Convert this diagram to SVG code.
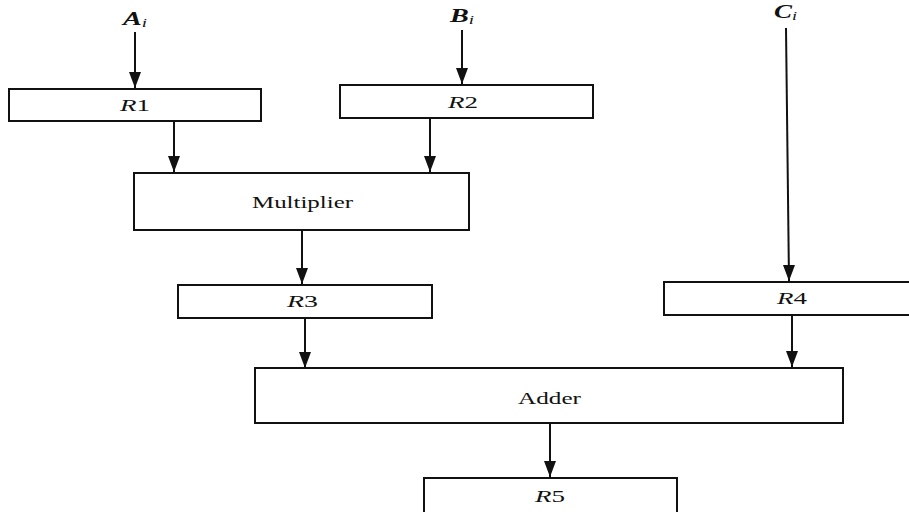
<svg xmlns="http://www.w3.org/2000/svg" width="909" height="512" viewBox="0 0 909 512">
<defs>
<style>
.box{fill:#fff;stroke:#111;stroke-width:2}
.ln{stroke:#111;stroke-width:2;fill:none}
.ah{fill:#111}
.t{font-family:"Liberation Serif","Times New Roman",serif;font-size:17px;fill:#111}
.it{font-style:italic}
.in{font-family:"Liberation Serif","Times New Roman",serif;font-size:18px;font-style:italic;font-weight:bold;fill:#111}
.sub{font-size:12px;font-weight:normal}
</style>
</defs>
<rect width="909" height="512" fill="#fff"/>
<g id="connectors">
<line class="ln" x1="135" y1="32" x2="135" y2="88"/>
<path class="ah" d="M129,72 L141,72 L135,88 Z"/>
<line class="ln" x1="462" y1="30" x2="462" y2="84"/>
<path class="ah" d="M456,68 L468,68 L462,84 Z"/>
<line class="ln" x1="786" y1="28" x2="789" y2="281"/>
<path class="ah" d="M783,265 L795,265 L789,281 Z"/>
<line class="ln" x1="174" y1="121" x2="174" y2="172"/>
<path class="ah" d="M168,156 L180,156 L174,172 Z"/>
<line class="ln" x1="430" y1="118" x2="430" y2="172"/>
<path class="ah" d="M424,156 L436,156 L430,172 Z"/>
<line class="ln" x1="302" y1="230" x2="302" y2="284"/>
<path class="ah" d="M296,268 L308,268 L302,284 Z"/>
<line class="ln" x1="305" y1="318" x2="305" y2="368"/>
<path class="ah" d="M299,352 L311,352 L305,368 Z"/>
<line class="ln" x1="792" y1="315" x2="792" y2="367"/>
<path class="ah" d="M786,351 L798,351 L792,367 Z"/>
<line class="ln" x1="550" y1="423" x2="550" y2="477"/>
<path class="ah" d="M544,461 L556,461 L550,477 Z"/>
</g>
<g id="Ai"><text class="in" x="123" y="25" textLength="24" lengthAdjust="spacingAndGlyphs">A<tspan class="sub" dy="2">i</tspan></text></g>
<g id="Bi"><text class="in" x="450" y="22" textLength="24" lengthAdjust="spacingAndGlyphs">B<tspan class="sub" dy="2">i</tspan></text></g>
<g id="Ci"><text class="in" x="774" y="18" textLength="23" lengthAdjust="spacingAndGlyphs">C<tspan class="sub" dy="2">i</tspan></text></g>
<g id="R1"><rect class="box" x="9" y="89" width="252" height="32"/><text class="t" x="120" y="111" textLength="30" lengthAdjust="spacingAndGlyphs"><tspan class="it">R</tspan>1</text></g>
<g id="R2"><rect class="box" x="340" y="85" width="253" height="33"/><text class="t" x="448" y="108" textLength="30" lengthAdjust="spacingAndGlyphs"><tspan class="it">R</tspan>2</text></g>
<g id="Multiplier"><rect class="box" x="134" y="173" width="335" height="57"/><text class="t" x="252" y="208" textLength="101" lengthAdjust="spacingAndGlyphs">Multiplier</text></g>
<g id="R3"><rect class="box" x="178" y="285" width="254" height="33"/><text class="t" x="287" y="307" textLength="31" lengthAdjust="spacingAndGlyphs"><tspan class="it">R</tspan>3</text></g>
<g id="R4"><rect class="box" x="664" y="282" width="260" height="33"/><text class="t" x="777" y="304" textLength="30" lengthAdjust="spacingAndGlyphs"><tspan class="it">R</tspan>4</text></g>
<g id="Adder"><rect class="box" x="255" y="368" width="588" height="55"/><text class="t" x="518" y="404" textLength="63" lengthAdjust="spacingAndGlyphs">Adder</text></g>
<g id="R5"><rect class="box" x="424" y="478" width="253" height="40"/><text class="t" x="535" y="502" textLength="30" lengthAdjust="spacingAndGlyphs"><tspan class="it">R</tspan>5</text></g>
</svg>
